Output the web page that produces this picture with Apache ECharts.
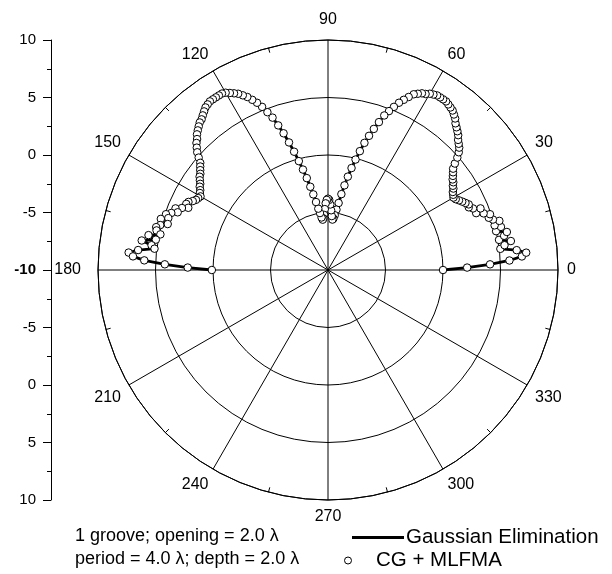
<!DOCTYPE html>
<html>
<head>
<meta charset="utf-8">
<script src="https://cdn.jsdelivr.net/npm/echarts@6/dist/echarts.min.js"></script>
<style>
  html, body { margin: 0; padding: 0; background: #fff; }
  #chart { width: 612px; height: 574px; }
</style>
</head>
<body>
<div id="chart"></div>
<script>
// Scattering angle in degrees, 1-degree steps over the upper half plane
const angleDeg = [];
for (let a = 0; a <= 180; a++) angleDeg.push(a);

// Bistatic pattern (dB), 0..90 degrees
const patternRight = [
  0.0, 2.1, 4.1, 5.8, 6.9, 7.3, 6.5, 5.1, 5.5, 6.1,
  5.1, 5.6, 5.9, 5.0, 5.5, 5.0, 5.5, 5.0, 4.7, 4.9,
  4.4, 3.8, 4.3, 3.7, 3.4, 3.5, 3.3, 3.1, 2.9, 2.7,
  2.6, 2.7, 2.8, 3.0, 3.1, 3.3, 3.4, 3.6, 3.8, 4.0,
  4.4, 4.9, 5.3, 5.6, 5.8, 6.0, 6.3, 6.5, 6.7, 6.9,
  7.2, 7.4, 7.6, 7.7, 7.8, 7.9, 7.9, 7.9, 7.9, 7.8,
  7.7, 7.5, 7.4, 7.2, 7.0, 6.6, 6.2, 5.8, 5.3, 4.8,
  4.3, 3.6, 2.9, 2.2, 1.5, 0.7, -0.1, -0.9, -1.7, -2.5,
  -3.3, -4.1, -4.7, -5.2, -5.5, -5.6, -5.3, -4.8, -4.3, -3.9,
  -3.8
];

// Bistatic pattern (dB), 91..180 degrees
const patternLeft = [
  -3.9, -4.2, -4.7, -5.2, -5.5, -5.6, -5.4, -5.0, -4.6, -4.0,
  -3.3, -2.6, -1.8, -1.0, -0.2, 0.7, 1.6, 2.5, 3.3, 4.1,
  4.7, 5.3, 5.8, 6.2, 6.6, 6.9, 7.2, 7.4, 7.6, 7.8,
  7.9, 7.9, 7.9, 7.9, 7.9, 7.8, 7.7, 7.5, 7.3, 7.1,
  7.0, 6.8, 6.6, 6.4, 6.1, 5.9, 5.6, 5.3, 4.9, 4.5,
  4.3, 4.1, 3.9, 3.8, 3.6, 3.4, 3.3, 3.1, 3.0, 2.8,
  2.9, 3.0, 3.2, 3.5, 3.6, 3.3, 3.8, 4.3, 4.0, 4.5,
  4.9, 4.6, 5.2, 4.5, 5.1, 5.4, 5.3, 4.9, 5.9, 5.2,
  6.4, 5.5, 5.2, 6.6, 7.4, 7.0, 6.0, 4.2, 2.2, 0.1
];

const gaussDb = patternRight.concat(patternLeft);   // Gaussian Elimination
const mlfmaDb = gaussDb;                             // CG + MLFMA (same samples)

const angleTicks = [0, 30, 60, 90, 120, 150, 180, 210, 240, 270, 300, 330];
const radialTicks = [-10, -5, 0, 5, 10];
const noteLines = ['1 groove; opening = 2.0 \u03bb', 'period = 4.0 \u03bb; depth = 2.0 \u03bb'];

const FONT = 'Liberation Sans, Arial, sans-serif';
const toPolar = vals => vals.map((v, i) => [v, angleDeg[i]]);

const chart = echarts.init(document.getElementById('chart'), null, { renderer: 'canvas' });

chart.setOption({
  animation: false,
  backgroundColor: '#ffffff',
  polar: { center: [328, 270], radius: 230 },
  angleAxis: {
    type: 'value',
    min: 0, max: 360, interval: 30,
    startAngle: 0, clockwise: false,
    axisLine: { show: true, lineStyle: { color: '#000', width: 1 } },
    axisTick: { show: false, inside: true },
    minorTick: { show: true, splitNumber: 2, length: 5, lineStyle: { color: '#000', width: 1 } },
    splitLine: { show: true, lineStyle: { color: '#000', width: 1 } },
    axisLabel: {
      margin: 9,
      color: '#000', fontFamily: FONT, fontSize: 16,
      formatter: v => {
        if (angleTicks.indexOf(v) < 0) return '';
        if (v === 180) return '{w|' + v + '}';
        if (v === 90) return '{n|' + v + '}';
        return String(v);
      },
      rich: {
        w: { fontFamily: FONT, fontSize: 16, color: '#000', padding: [0, 8, 0, 0] },
        n: { fontFamily: FONT, fontSize: 16, color: '#000', padding: [0, 0, 3, 0] }
      }
    }
  },
  radiusAxis: {
    type: 'value',
    min: radialTicks[0], max: radialTicks[radialTicks.length - 1], interval: 5,
    axisLine: { show: false }, axisTick: { show: false }, axisLabel: { show: false },
    splitLine: { show: true, lineStyle: { color: '#000', width: 1 } }
  },
  grid: { left: 51, top: 40, width: 1, height: 460 },
  xAxis: { type: 'value', show: false },
  yAxis: {
    type: 'value', min: -20, max: 20, interval: 5,
    axisLine: { show: true, lineStyle: { color: '#000', width: 1 } },
    axisTick: { show: true, length: 8, lineStyle: { color: '#000' } },
    minorTick: { show: true, splitNumber: 2, length: 4, lineStyle: { color: '#000' } },
    splitLine: { show: false },
    axisLabel: {
      margin: 15, color: '#000', fontFamily: FONT, fontSize: 15,
      formatter: v => (v === 0 ? '{b|-10}' : String(Math.abs(v) - 10)),
      rich: { b: { fontFamily: FONT, fontSize: 15, fontWeight: 'bold', color: '#000' } }
    }
  },
  legend: [
    {
      data: [{ name: 'Gaussian Elimination', icon: 'rect' }],
      left: 352, top: 526, padding: 0,
      itemWidth: 52, itemHeight: 3, itemGap: 0,
      textStyle: { color: '#000', fontFamily: FONT, fontSize: 20.5, lineHeight: 23, padding: [0, 0, 0, -3] },
      selectedMode: false
    },
    {
      data: [{ name: 'CG + MLFMA', icon: 'circle',
               itemStyle: { color: '#fff', borderColor: '#000', borderWidth: 1 } }],
      left: 344, top: 549, padding: 0,
      itemWidth: 46, itemHeight: 7,
      textStyle: { color: '#000', fontFamily: FONT, fontSize: 20.5, lineHeight: 23 },
      selectedMode: false
    }
  ],
  graphic: noteLines.map((t, i) => ({
    type: 'text', left: 75, top: 527 + i * 23,
    style: { text: t, fill: '#000', font: '18px ' + FONT }
  })),
  series: [
    {
      name: 'Gaussian Elimination', type: 'line', coordinateSystem: 'polar',
      data: toPolar(gaussDb), symbol: 'none',
      lineStyle: { color: '#000', width: 2.8 }, itemStyle: { color: '#000' }, z: 2
    },
    {
      name: 'CG + MLFMA', type: 'scatter', coordinateSystem: 'polar',
      data: toPolar(mlfmaDb), symbol: 'circle', symbolSize: 7.5,
      itemStyle: { color: '#fff', borderColor: '#000', borderWidth: 1, opacity: 1 }, z: 3
    }
  ]
});
</script>
</body>
</html>
